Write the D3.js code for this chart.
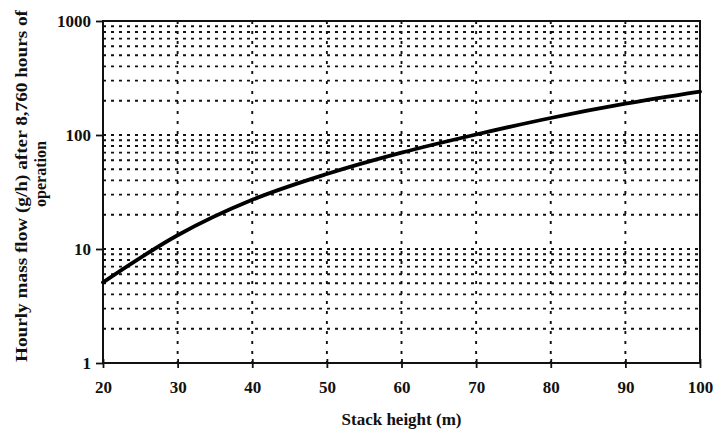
<!DOCTYPE html>
<html>
<head>
<meta charset="utf-8">
<script src="https://cdn.jsdelivr.net/npm/d3@7"></script>
<style>
  html, body { margin: 0; padding: 0; background: #fff; }
  svg { display: block; }
  text { font-family: "Liberation Serif", "Times New Roman", serif; font-weight: bold; fill: #111; }
</style>
</head>
<body>
<svg id="chart" width="717" height="435"></svg>
<script>
// ---- data ----
const stackHeights = [20, 30, 40, 50, 60, 70, 80, 90, 100];          // m
const massFlow     = [5.1, 13.2, 27, 45.5, 70, 101, 141, 188, 240];   // g/h
const xTicks = [20, 30, 40, 50, 60, 70, 80, 90, 100];
const yTicks = [1, 10, 100, 1000];
const yTickLabels = ["1", "10", "100", "1000"];
const xTitle = "Stack height (m)";
const yTitleLines = ["Hourly mass flow (g/h) after  8,760 hours of", "operation"];

// ---- layout ----
const svg = d3.select("#chart");
const L = 103, R = 700, T = 21, B = 363;
const x = d3.scaleLinear().domain([20, 100]).range([L, R]);
const y = d3.scaleLog().domain([1, 1000]).range([B, T]);

// minor gridline values (2..10 in each decade, below the top 1000)
const gridY = [];
[1, 10, 100].forEach(d => { for (let k = 2; k <= 10; k++) gridY.push(d * k); });
const gridYDraw = gridY.filter(v => v < 1000);

const grid = svg.append("g");
grid.selectAll("line.h").data(gridYDraw).join("line")
  .attr("x1", L).attr("x2", R)
  .attr("y1", d => y(d)).attr("y2", d => y(d))
  .attr("stroke", "#111").attr("stroke-width", 1.9)
  .attr("stroke-dasharray", "3,5");
grid.selectAll("line.v").data(xTicks.filter(v => v > 20 && v < 100)).join("line")
  .attr("x1", d => x(d)).attr("x2", d => x(d))
  .attr("y1", T).attr("y2", B)
  .attr("stroke", "#111").attr("stroke-width", 1.9)
  .attr("stroke-dasharray", "3,7");

// frame
svg.append("rect").attr("x", L).attr("y", T).attr("width", R - L).attr("height", B - T)
  .attr("fill", "none").attr("stroke", "#111").attr("stroke-width", 2);

// y axis
const yAxis = svg.append("g").attr("transform", `translate(${L},0)`)
  .call(d3.axisLeft(y).tickValues(yTicks).tickFormat((d, i) => yTickLabels[i]).tickSize(7).tickPadding(5));
yAxis.select(".domain").remove();
yAxis.selectAll(".tick line").attr("stroke", "#111").attr("stroke-width", 1.8);
yAxis.selectAll(".tick text").style("font-size", "17px").attr("fill", "#111");

// x axis
const xAxis = svg.append("g").attr("transform", `translate(0,${B})`)
  .call(d3.axisBottom(x).tickValues(xTicks).tickFormat(d3.format("d")).tickSize(5).tickPadding(13));
xAxis.select(".domain").remove();
xAxis.selectAll(".tick line").attr("y1", -4).attr("stroke", "#111").attr("stroke-width", 1.8);
xAxis.selectAll(".tick text").style("font-size", "17px").attr("fill", "#111");

// curve
const line = d3.line()
  .x((d, i) => x(stackHeights[i]))
  .y(d => y(d))
  .curve(d3.curveMonotoneX);
svg.append("path").datum(massFlow)
  .attr("d", line)
  .attr("fill", "none").attr("stroke", "#000").attr("stroke-width", 3.8)
  .attr("stroke-linecap", "round");

// titles
svg.append("text")
  .attr("x", (L + R) / 2).attr("y", 425)
  .attr("text-anchor", "middle")
  .style("font-size", "17px")
  .text(xTitle);

svg.append("text")
  .attr("transform", `translate(27,186) rotate(-90)`)
  .attr("text-anchor", "middle")
  .attr("textLength", 352).attr("lengthAdjust", "spacingAndGlyphs")
  .style("font-size", "16px")
  .text(yTitleLines[0]);
svg.append("text")
  .attr("transform", `translate(46,174) rotate(-90)`)
  .attr("text-anchor", "middle")
  .style("font-size", "16px")
  .text(yTitleLines[1]);
</script>
</body>
</html>
